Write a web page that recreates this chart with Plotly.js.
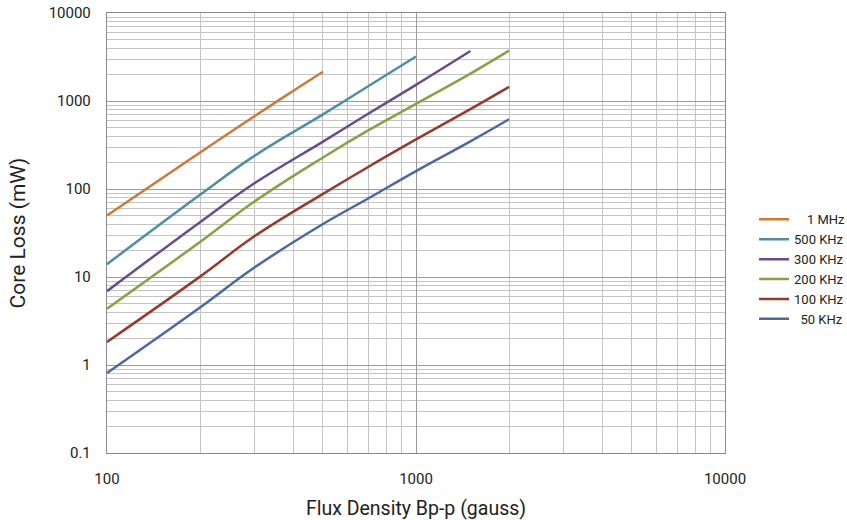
<!DOCTYPE html>
<html>
<head>
<meta charset="utf-8">
<script src="https://cdn.plot.ly/plotly-3.0.1.min.js"></script>
<style>html,body{margin:0;padding:0;background:#fff;}#chart{width:847px;height:520px;}</style>
</head>
<body>
<div id="chart"></div>
<script>
// ---- data ----
var seriesNames = ["\u00A0\u00A0\u00A0\u00A01 MHz", "500 KHz", "300 KHz", "200 KHz", "100 KHz", "\u00A0\u00A050 KHz"];

var x1MHz   = [100, 200, 300, 400, 500];
var y1MHz   = [50, 260, 670, 1300, 2150];

var x500KHz = [100, 200, 300, 500, 700, 1000];
var y500KHz = [14, 86, 238, 705, 1470, 3200];

var x300KHz = [100, 200, 300, 500, 700, 1000, 1500];
var y300KHz = [6.9, 42, 116, 345, 716, 1527, 3700];

var x200KHz = [100, 200, 300, 500, 700, 1000, 1500, 2000];
var y200KHz = [4.36, 25, 72, 228, 463, 929, 2050, 3740];

var x100KHz = [100, 200, 300, 500, 700, 1000, 1500, 2000];
var y100KHz = [1.83, 10.1, 29, 88, 178, 366, 810, 1450];

var x50KHz  = [100, 200, 300, 500, 700, 1000, 1500, 2000];
var y50KHz  = [0.81, 4.5, 12.8, 40, 78, 160, 348, 620];

var xTickVals = [100, 1000, 10000];
var xTickText = ["100", "1000", "10000"];
var yTickVals = [0.1, 1, 10, 100, 1000, 10000];
var yTickText = ["0.1", "1", "10", "100", "1000", "10000"];

// ---- styling ----
var colors = ["#CC7A3A", "#4E8EA5", "#674D8D", "#87A144", "#96392F", "#4C67A3"];
var xs = [x1MHz, x500KHz, x300KHz, x200KHz, x100KHz, x50KHz];
var ys = [y1MHz, y500KHz, y300KHz, y200KHz, y100KHz, y50KHz];

var FONT = "Roboto, 'DejaVu Sans Condensed', sans-serif";

var traces = xs.map(function (xv, i) {
  return {
    x: xv, y: ys[i], name: seriesNames[i],
    type: "scatter", mode: "lines",
    line: {color: colors[i], width: 2.5, shape: "spline", smoothing: 1.2},
    hoverinfo: "x+y+name"
  };
});

var gridMajor = "#9a9a9a";
var gridMinor = "#c4c4c4";

var layout = {
  width: 847, height: 520,
  margin: {l: 106.5, r: 122, t: 12.7, b: 66.7, autoexpand: false},
  paper_bgcolor: "#ffffff", plot_bgcolor: "#ffffff",
  font: {family: FONT, size: 15, color: "#222"},
  showlegend: true,
  legend: {
    x: 1.047, xanchor: "left", y: 0.565, yanchor: "top",
    font: {family: FONT, size: 13, color: "#222"},
    bgcolor: "rgba(0,0,0,0)", tracegroupgap: 0, itemwidth: 30
  },
  xaxis: {
    type: "log", range: [2, 4],
    tickvals: xTickVals, ticktext: xTickText,
    ticks: "outside", ticklen: 12, tickcolor: "rgba(0,0,0,0)",
    tickfont: {family: FONT, size: 15, color: "#222"},
    showgrid: true, gridcolor: gridMajor, gridwidth: 1,
    minor: {dtick: "D1", showgrid: true, gridcolor: gridMinor, gridwidth: 1, ticks: ""},
    showline: true, linecolor: "#8a8a8a", linewidth: 1.2, mirror: true,
    zeroline: false,
    title: {text: "Flux Density Bp-p (gauss)\u00A0\u00A0\u00A0\u00A0\u00A0", font: {family: FONT, size: 19.5, color: "#222"}, standoff: 15}
  },
  yaxis: {
    type: "log", range: [-1, 4],
    tickvals: yTickVals, ticktext: yTickText,
    ticks: "outside", ticklen: 12, tickcolor: "rgba(0,0,0,0)",
    tickfont: {family: FONT, size: 15, color: "#222"},
    showgrid: true, gridcolor: gridMajor, gridwidth: 1,
    minor: {dtick: "D1", showgrid: true, gridcolor: gridMinor, gridwidth: 1, ticks: ""},
    showline: true, linecolor: "#8a8a8a", linewidth: 1.2, mirror: true,
    zeroline: false,
    title: {text: "Core Loss (mW)\u00A0\u00A0\u00A0\u00A0\u00A0\u00A0\u00A0\u00A0", font: {family: FONT, size: 21, color: "#222"}, standoff: 17}
  }
};

Plotly.newPlot("chart", traces, layout, {displayModeBar: false, staticPlot: true});
</script>
</body>
</html>
